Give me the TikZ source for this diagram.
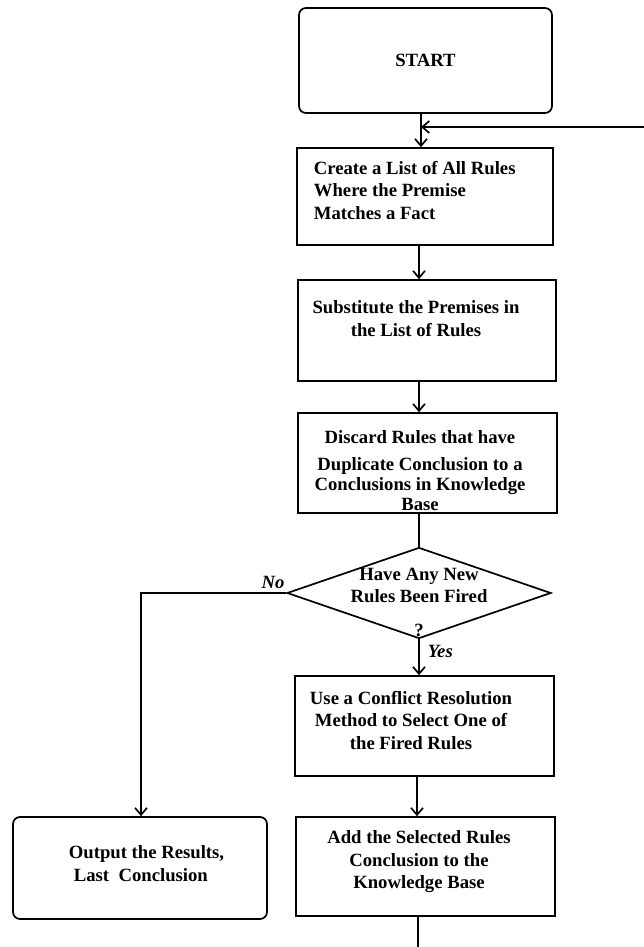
\documentclass[tikz,border=0pt]{standalone}
\usepackage{fontspec}
\setmainfont{Liberation Serif}
\usetikzlibrary{shapes.geometric,arrows.meta}
\begin{document}
\begin{tikzpicture}[x=1pt,y=-1pt,
  line width=1.7pt,
  box/.style={draw, line width=1.7pt, inner sep=0pt, font=\fs},
  termbox/.style={box, rounded corners=7pt},
  decision/.style={draw, diamond, line width=1.7pt, inner sep=0pt, minimum width=264pt, minimum height=91pt},
  txt/.style={inner sep=0pt, font=\fs},
  lbl/.style={inner sep=0pt, font=\fs\itshape},
  arr/.style={-{Straight Barb[length=7pt,width=12pt,line width=1.7pt]}},
  plain/.style={-}
]
\newcommand{\fs}{\fontsize{18.7}{22.5}\selectfont\bfseries}
\useasboundingbox (0,0) rectangle (644,947);

% spines
\coordinate (sp1) at (421,0);
\coordinate (sp2) at (419,0);
\coordinate (sp3) at (417,0);

% nodes
\node[termbox, minimum width=253pt, minimum height=105pt] (start) at (425.5,60.5) {START};
\node[box, minimum width=256pt, minimum height=97pt] (c1) at (425,196.5) {};
\node[box, minimum width=258pt, minimum height=101pt] (c2) at (427,330.5) {};
\node[box, minimum width=259pt, minimum height=100pt] (c3) at (427.5,463) {};
\node[decision] (d) at (419,593) {};
\node[box, minimum width=259pt, minimum height=100pt] (u) at (424.5,726) {};
\node[box, minimum width=259pt, minimum height=99pt] (a) at (425.5,866.5) {};
\node[termbox, minimum width=254pt, minimum height=102pt] (o) at (140,868) {};

% texts
\node[txt, align=left, anchor=north west] (t1) at (313,160)
  {Create a List of All Rules\\Where the Premise\\Matches a Fact};
\node[txt, align=center, anchor=north] (t2) at (416,300)
  {\fontsize{18.7}{25}\selectfont Substitute the Premises in\\the List of Rules};
\node[txt, align=center, anchor=north] (t3) at (420,430)
  {\fontsize{18.7}{20}\selectfont Discard Rules that have\\[4pt]Duplicate Conclusion to a\\[-2pt]Conclusions in Knowledge\\[-3pt]Base};
\node[txt, align=center, anchor=north] (td) at (419,567)
  {\fontsize{18.7}{19}\selectfont Have Any New\\Rules Been Fired\\[11pt]?};
\node[lbl, anchor=base] (no) at (273,588) {No};
\node[lbl, anchor=base west] (yes) at (427,657) {Yes};
\node[txt, align=center, anchor=north] (tu) at (411,690)
  {\fontsize{18.7}{21}\selectfont Use a Conflict Resolution\\Method to Select One of\\the Fired Rules};
\node[txt, align=center, anchor=north] (ta) at (419,830)
  {\fontsize{18.7}{22}\selectfont Add the Selected Rules\\Conclusion to the\\Knowledge Base};
\node[txt, align=left, anchor=north west] (to) at (68,845)
  {\fontsize{18.7}{22}\selectfont Output the Results,\\\hspace*{5pt}Last\ \ Conclusion};

% free ends
\coordinate (loopin) at (644,127);
\coordinate (exit) at (418,947);
\coordinate (nocorner) at (141,593);

% connectors
\draw[arr] (start.south -| sp1) -- (c1.north -| sp1);
\draw[arr] (loopin) -- (loopin -| sp1);
\draw[arr] (c1.south -| sp2) -- (c2.north -| sp2);
\draw[arr] (c2.south -| sp2) -- (c3.north -| sp2);
\draw[plain] (c3.south -| sp2) -- (d.north);
\draw[arr] (d.south) -- (u.north -| d.south);
\draw[arr] (u.south -| sp3) -- (a.north -| sp3);
\draw[plain] (a.south -| exit) -- (exit);
\draw[arr] (d.west) -- (nocorner) -- (o.north -| nocorner);
\end{tikzpicture}
\end{document}
